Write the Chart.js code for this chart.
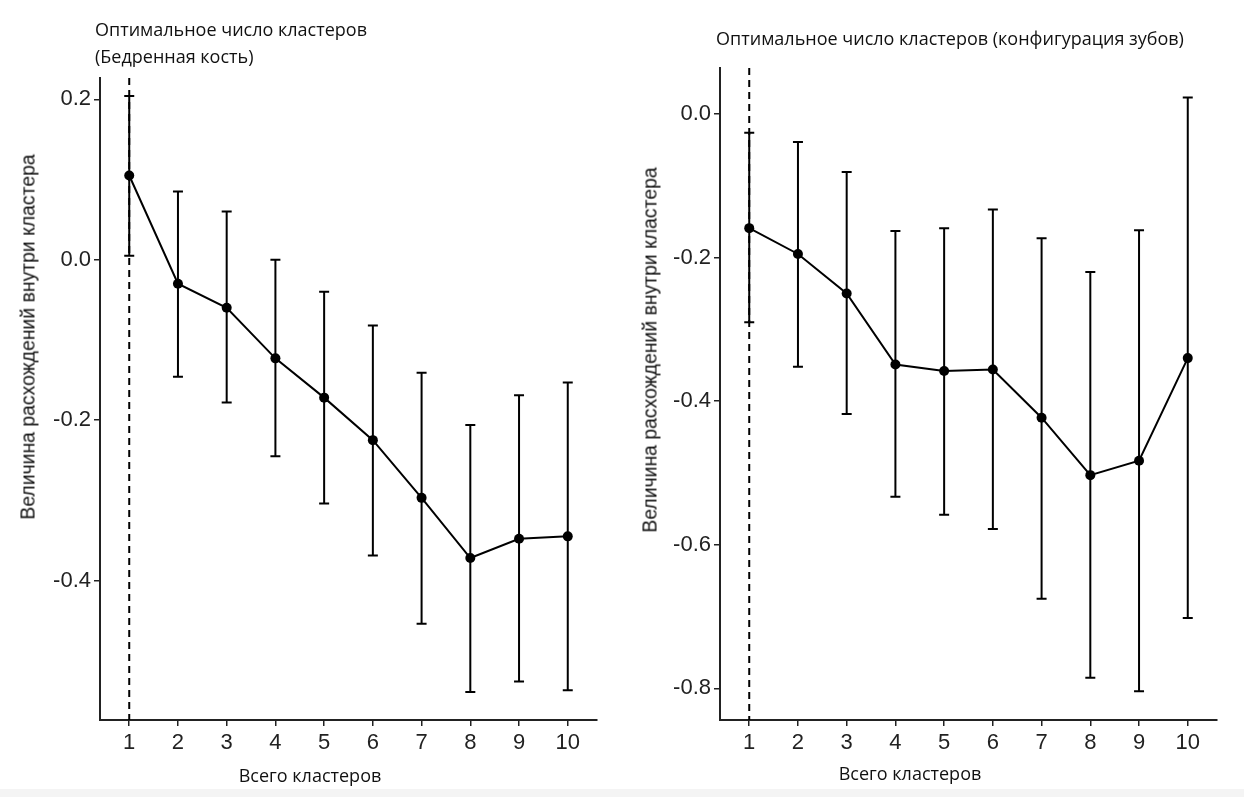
<!DOCTYPE html>
<html>
<head>
<meta charset="utf-8">
<script src="https://cdn.jsdelivr.net/npm/chart.js@4"></script>
<style>
  html, body { margin: 0; padding: 0; background: #fff; }
  #wrap { position: relative; width: 1244px; height: 797px; overflow: hidden; }
  canvas { position: absolute; top: 0; }
  .lbl { position: absolute; white-space: nowrap; color: #111; }
  .ttl { font-family: "Open Sans", sans-serif; font-size: 18px; line-height: 27px; }
  .ytl { font-family: "Liberation Sans", Arial, sans-serif; font-size: 19.4px;
         transform: translate(-50%, -50%) rotate(-90deg); }
  .xtl { font-family: "Open Sans", sans-serif; font-size: 18px; transform: translate(-50%, -50%); }
  #strip { position: absolute; left: 0; top: 789px; width: 1244px; height: 8px; background: #f4f4f4; }
</style>
</head>
<body>
<div id="wrap">
  <canvas id="left" width="622" height="797" style="left:0"></canvas>
  <canvas id="right" width="622" height="797" style="left:622px"></canvas>

  <div class="lbl ttl" style="left:95px; top:16px;">Оптимальное число кластеров<br>(Бедренная кость)</div>
  <div class="lbl ttl" style="left:950px; top:38px; transform:translate(-50%,-50%);">Оптимальное число кластеров (конфигурация зубов)</div>

  <div class="lbl ytl" style="left:28px; top:337px;">Величина расхождений внутри кластера</div>
  <div class="lbl ytl" style="left:650px; top:350px;">Величина расхождений внутри кластера</div>

  <div class="lbl xtl" style="left:310px; top:775px;">Всего кластеров</div>
  <div class="lbl xtl" style="left:910px; top:773px;">Всего кластеров</div>
  <div id="strip"></div>
</div>
<script>
// number of clusters
var clusters = [1, 2, 3, 4, 5, 6, 7, 8, 9, 10];
var optimalK = 1;

// femur panel (mean and error bar ends)
var femurMean = [0.105, -0.030, -0.060, -0.123, -0.172, -0.225, -0.297, -0.372, -0.348, -0.345];
var femurLow  = [0.005, -0.146, -0.178, -0.245, -0.304, -0.369, -0.454, -0.539, -0.526, -0.537];
var femurHigh = [0.204, 0.085, 0.060, 0.000, -0.040, -0.082, -0.141, -0.206, -0.169, -0.153];
var femurTicks = [-0.4, -0.2, 0.0, 0.2];

// teeth panel
var teethMean = [-0.159, -0.195, -0.250, -0.349, -0.358, -0.356, -0.423, -0.503, -0.483, -0.340];
var teethLow  = [-0.290, -0.352, -0.418, -0.533, -0.558, -0.578, -0.675, -0.785, -0.804, -0.702];
var teethHigh = [-0.026, -0.039, -0.081, -0.163, -0.159, -0.133, -0.173, -0.220, -0.162, 0.023];
var teethTicks = [-0.8, -0.6, -0.4, -0.2, 0.0];

var tickFont = { family: "'Liberation Sans', Arial, sans-serif", size: 22 };

// error bars + dashed line at the optimal k
var errorBars = {
    id: 'errorBars',
    beforeDatasetsDraw: function (chart, args, opts) {
        var ctx = chart.ctx, x = chart.scales.x, y = chart.scales.y, a = chart.chartArea;
        ctx.save();
        ctx.strokeStyle = '#000';
        ctx.lineWidth = 2;
        ctx.setLineDash([7, 5]);
        var vx = x.getPixelForValue(optimalK);
        ctx.beginPath();
        ctx.moveTo(vx, a.top);
        ctx.lineTo(vx, a.bottom);
        ctx.stroke();
        ctx.setLineDash([]);
        for (var i = 0; i < clusters.length; i++) {
            var px = x.getPixelForValue(clusters[i]);
            var lo = y.getPixelForValue(opts.low[i]);
            var hi = y.getPixelForValue(opts.high[i]);
            ctx.beginPath();
            ctx.moveTo(px, lo); ctx.lineTo(px, hi);
            ctx.moveTo(px - 5, lo); ctx.lineTo(px + 5, lo);
            ctx.moveTo(px - 5, hi); ctx.lineTo(px + 5, hi);
            ctx.stroke();
        }
        ctx.restore();
    }
};

function makeChart(id, mean, low, high, yTicks, yMin, yMax, yWidth, padRight, padTop) {
    var pts = clusters.map(function (c, i) { return { x: c, y: mean[i] }; });
    return new Chart(document.getElementById(id), {
        type: 'line',
        data: {
            datasets: [{
                data: pts,
                borderColor: '#000',
                backgroundColor: '#000',
                borderWidth: 2,
                pointRadius: 5,
                pointBackgroundColor: '#000',
                pointBorderWidth: 0,
                tension: 0
            }]
        },
        options: {
            responsive: false,
            animation: false,
            layout: { padding: { top: padTop, right: padRight, left: 0, bottom: 0 } },
            plugins: {
                legend: { display: false },
                tooltip: { enabled: false },
                errorBars: { low: low, high: high }
            },
            scales: {
                x: {
                    type: 'linear',
                    min: 0.4,
                    max: 10.6,
                    afterFit: function (s) { s.height = 77; },
                    afterBuildTicks: function (s) { s.ticks = clusters.map(function (v) { return { value: v }; }); },
                    grid: { display: true, drawOnChartArea: false, drawTicks: true, tickLength: 6, color: '#222', lineWidth: 1.5 },
                    border: { display: true, color: '#222', width: 2 },
                    ticks: { font: tickFont, color: '#222', padding: 4, maxRotation: 0 }
                },
                y: {
                    type: 'linear',
                    min: yMin,
                    max: yMax,
                    afterFit: function (s) { s.width = yWidth; },
                    afterBuildTicks: function (s) { s.ticks = yTicks.map(function (v) { return { value: v }; }); },
                    grid: { display: true, drawOnChartArea: false, drawTicks: true, tickLength: 6, color: '#222', lineWidth: 1.5 },
                    border: { display: true, color: '#222', width: 2 },
                    ticks: {
                        font: tickFont, color: '#222', padding: 3,
                        callback: function (v) { return v.toFixed(1); }
                    }
                }
            }
        },
        plugins: [errorBars]
    });
}

makeChart('left', femurMean, femurLow, femurHigh, femurTicks, -0.574, 0.2266, 100, 25, 78);
makeChart('right', teethMean, teethLow, teethHigh, teethTicks, -0.844, 0.064, 98, 27, 68);
</script>
</body>
</html>
